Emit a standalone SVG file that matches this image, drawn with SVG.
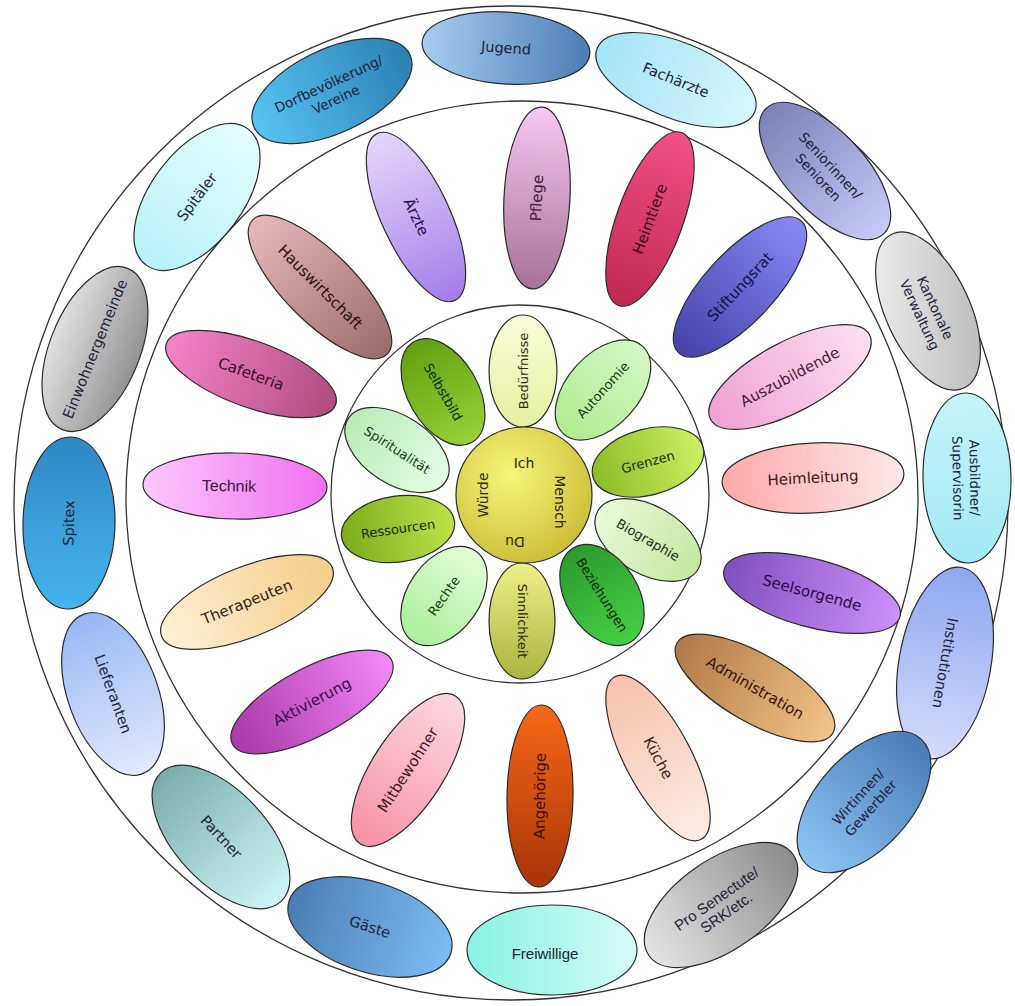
<svg xmlns="http://www.w3.org/2000/svg" width="1015" height="1006" viewBox="0 0 1015 1006">
<style>
.n ellipse{stroke:#2a2a2a;stroke-width:1.2}
text{font-family:"DejaVu Sans","Noto Sans",sans-serif;text-anchor:middle;dominant-baseline:central;fill:#23233a}
.o text{font-size:14.5px}
.o2 text{font-size:13.5px}
.m text{font-size:15px}
.i text{font-size:13px}
.arial text{font-family:"Liberation Sans",Arial,sans-serif}
.ring{fill:none;stroke:#333;stroke-width:1.3}
</style>
<defs>
<linearGradient id="g-jugend"><stop offset="0" stop-color="#a6cdf2"/><stop offset="1" stop-color="#4d7db5"/></linearGradient>
<linearGradient id="g-fach"><stop offset="0" stop-color="#a4e4f6"/><stop offset="1" stop-color="#d6f6fc"/></linearGradient>
<linearGradient id="g-senior"><stop offset="0" stop-color="#7c80b6"/><stop offset="1" stop-color="#c8cafa"/></linearGradient>
<linearGradient id="g-kanton" x1="0" y1="1" x2="1" y2="0"><stop offset="0" stop-color="#f4f4f4"/><stop offset="1" stop-color="#b4b4b4"/></linearGradient>
<linearGradient id="g-ausb"><stop offset="0" stop-color="#c4f4fa"/><stop offset="1" stop-color="#a2e8f2"/></linearGradient>
<linearGradient id="g-inst"><stop offset="0" stop-color="#8ea6f0"/><stop offset="1" stop-color="#d4dcfc"/></linearGradient>
<linearGradient id="g-wirt"><stop offset="0" stop-color="#8cc4f4"/><stop offset="1" stop-color="#4a7cb8"/></linearGradient>
<linearGradient id="g-pro"><stop offset="0" stop-color="#e4e4e4"/><stop offset="1" stop-color="#8c8c8c"/></linearGradient>
<linearGradient id="g-frei"><stop offset="0" stop-color="#88f2e2"/><stop offset="1" stop-color="#d4fcf6"/></linearGradient>
<linearGradient id="g-gaeste"><stop offset="0" stop-color="#4a7eb4"/><stop offset="1" stop-color="#7cbcf2"/></linearGradient>
<linearGradient id="g-partner"><stop offset="0" stop-color="#78acac"/><stop offset="1" stop-color="#cef6f6"/></linearGradient>
<linearGradient id="g-liefer"><stop offset="0" stop-color="#98b6f6"/><stop offset="1" stop-color="#e2eafc"/></linearGradient>
<linearGradient id="g-spitex"><stop offset="0" stop-color="#44b4ec"/><stop offset="1" stop-color="#3088c6"/></linearGradient>
<linearGradient id="g-einw" x1="0" y1="0" x2="0" y2="1"><stop offset="0" stop-color="#e0e0e0"/><stop offset="1" stop-color="#939393"/></linearGradient>
<linearGradient id="g-spitaeler"><stop offset="0" stop-color="#b6f2fa"/><stop offset="1" stop-color="#e4fcfc"/></linearGradient>
<linearGradient id="g-dorf"><stop offset="0" stop-color="#56c4f2"/><stop offset="1" stop-color="#2c80b4"/></linearGradient>
<linearGradient id="g-pflege"><stop offset="0" stop-color="#a87098"/><stop offset="1" stop-color="#f6c8f2"/></linearGradient>
<linearGradient id="g-heimt"><stop offset="0" stop-color="#c02850"/><stop offset="1" stop-color="#f25088"/></linearGradient>
<linearGradient id="g-stift"><stop offset="0" stop-color="#4444a8"/><stop offset="1" stop-color="#8888f4"/></linearGradient>
<linearGradient id="g-azubi"><stop offset="0" stop-color="#f0a0d4"/><stop offset="1" stop-color="#fce0f0"/></linearGradient>
<linearGradient id="g-heiml"><stop offset="0" stop-color="#ffa8a8"/><stop offset="1" stop-color="#fce8e8"/></linearGradient>
<linearGradient id="g-seel"><stop offset="0" stop-color="#8050c0"/><stop offset="1" stop-color="#cc90fa"/></linearGradient>
<linearGradient id="g-admin"><stop offset="0" stop-color="#b07848"/><stop offset="1" stop-color="#f4c488"/></linearGradient>
<linearGradient id="g-kueche"><stop offset="0" stop-color="#f8c0ac"/><stop offset="1" stop-color="#fcece4"/></linearGradient>
<linearGradient id="g-angeh"><stop offset="0" stop-color="#a83408"/><stop offset="1" stop-color="#f86818"/></linearGradient>
<linearGradient id="g-mitbew"><stop offset="0" stop-color="#f890a8"/><stop offset="1" stop-color="#fcd8e0"/></linearGradient>
<linearGradient id="g-aktiv"><stop offset="0" stop-color="#a838a8"/><stop offset="1" stop-color="#f488f8"/></linearGradient>
<linearGradient id="g-thera"><stop offset="0" stop-color="#fdf0d4"/><stop offset="1" stop-color="#f6cc88"/></linearGradient>
<linearGradient id="g-technik"><stop offset="0" stop-color="#fcc8fc"/><stop offset="1" stop-color="#f070f0"/></linearGradient>
<linearGradient id="g-cafe"><stop offset="0" stop-color="#f484c8"/><stop offset="1" stop-color="#b04c80"/></linearGradient>
<linearGradient id="g-haus"><stop offset="0" stop-color="#e8b8b8"/><stop offset="1" stop-color="#9c6c6c"/></linearGradient>
<linearGradient id="g-aerzte"><stop offset="0" stop-color="#e4d8fc"/><stop offset="1" stop-color="#a47ce8"/></linearGradient>
<linearGradient id="g-bed"><stop offset="0" stop-color="#e4f0a0"/><stop offset="1" stop-color="#fafcd8"/></linearGradient>
<linearGradient id="g-auto"><stop offset="0" stop-color="#b0ec90"/><stop offset="1" stop-color="#d4f8c4"/></linearGradient>
<linearGradient id="g-grenz"><stop offset="0" stop-color="#8cbc28"/><stop offset="1" stop-color="#ccf064"/></linearGradient>
<linearGradient id="g-bio"><stop offset="0" stop-color="#e8f8d8"/><stop offset="1" stop-color="#c4e8a0"/></linearGradient>
<linearGradient id="g-bez"><stop offset="0" stop-color="#2c9a2c"/><stop offset="1" stop-color="#44d044"/></linearGradient>
<linearGradient id="g-sinn"><stop offset="0" stop-color="#eef088"/><stop offset="1" stop-color="#a8b440"/></linearGradient>
<linearGradient id="g-rechte"><stop offset="0" stop-color="#a8f098"/><stop offset="1" stop-color="#e4fcd8"/></linearGradient>
<linearGradient id="g-ress"><stop offset="0" stop-color="#7cac1c"/><stop offset="1" stop-color="#bce448"/></linearGradient>
<linearGradient id="g-spirit"><stop offset="0" stop-color="#b8ecb8"/><stop offset="1" stop-color="#e4fce4"/></linearGradient>
<linearGradient id="g-selbst"><stop offset="0" stop-color="#60a010"/><stop offset="1" stop-color="#98d038"/></linearGradient>
<radialGradient id="g-center" cx="0.4" cy="0.35" r="0.7"><stop offset="0" stop-color="#f6f67c"/><stop offset="1" stop-color="#cbbd36"/></radialGradient>
</defs>
<rect width="1015" height="1006" fill="#fff"/>
<g id="connectors">
<circle class="ring" cx="511" cy="503" r="497"/>
<circle class="ring" cx="522" cy="497" r="396"/>
<circle class="ring" cx="520" cy="494" r="189"/>
</g>
<g id="outer" class="o">
<g id="n-jugend" class="n" transform="translate(506,48) rotate(4)"><ellipse rx="84" ry="36" fill="url(#g-jugend)"/><text>Jugend</text></g>
<g id="n-fachaerzte" class="n" transform="translate(676,80) rotate(22)"><ellipse rx="85" ry="38" fill="url(#g-fach)"/><text>Fachärzte</text></g>
<g id="n-senioren" class="n o2" transform="translate(825,171) rotate(47)"><ellipse rx="86" ry="40" fill="url(#g-senior)"/><text y="-8">Seniorinnen/</text><text y="9">Senioren</text></g>
<g id="n-kantonale" class="n o2" transform="translate(928,311) rotate(65)"><ellipse rx="85" ry="42" fill="url(#g-kanton)"/><text y="-8">Kantonale</text><text y="9">Verwaltung</text></g>
<g id="n-ausbildner" class="n o2" transform="translate(967,478) rotate(89)"><ellipse rx="85" ry="44" fill="url(#g-ausb)"/><text y="-8">Ausbildner/</text><text y="9">Supervisorin</text></g>
<g id="n-institutionen" class="n" transform="translate(945,663) rotate(100)"><ellipse rx="97" ry="46" fill="url(#g-inst)"/><text>Institutionen</text></g>
<g id="n-wirtinnen" class="n o2" transform="translate(864,802) rotate(-48)"><ellipse rx="85" ry="47" fill="url(#g-wirt)"/><text y="-8">Wirtinnen/</text><text y="9">Gewerbler</text></g>
<g id="n-prosenectute" class="n o2 arial" transform="translate(721,905) rotate(-35)"><ellipse rx="88" ry="45" fill="url(#g-pro)"/><text y="-8" style="font-size:15px">Pro Senectute/</text><text y="9" style="font-size:15px">SRK/etc.</text></g>
<g id="n-freiwillige" class="n arial" transform="translate(552,950)"><ellipse rx="85" ry="45" fill="url(#g-frei)"/><text x="-7" y="3" style="font-size:15px">Freiwillige</text></g>
<g id="n-gaeste" class="n" transform="translate(370,927) rotate(18)"><ellipse rx="85" ry="45" fill="url(#g-gaeste)"/><text>Gäste</text></g>
<g id="n-partner" class="n" transform="translate(221,837) rotate(47)"><ellipse rx="88" ry="46" fill="url(#g-partner)"/><text>Partner</text></g>
<g id="n-lieferanten" class="n" transform="translate(113,694) rotate(70)"><ellipse rx="85" ry="45" fill="url(#g-liefer)"/><text>Lieferanten</text></g>
<g id="n-spitex" class="n" transform="translate(69,523) rotate(-89)"><ellipse rx="86" ry="46" fill="url(#g-spitex)"/><text>Spitex</text></g>
<g id="n-einwohnergemeinde" class="n" transform="translate(95,349) rotate(-68)"><ellipse rx="87" ry="45" fill="url(#g-einw)"/><text>Einwohnergemeinde</text></g>
<g id="n-spitaeler" class="n" transform="translate(197,197) rotate(-53)"><ellipse rx="85" ry="46" fill="url(#g-spitaeler)"/><text>Spitäler</text></g>
<g id="n-dorf" class="n o2" transform="translate(332,91) rotate(-25)"><ellipse rx="86" ry="42" fill="url(#g-dorf)"/><text y="-8">Dorfbevölkerung/</text><text y="9">Vereine</text></g>
</g>
<g id="middle" class="m">
<g id="n-pflege" class="n" transform="translate(537,198) rotate(-87)"><ellipse rx="91" ry="33" fill="url(#g-pflege)"/><text style="fill:#4a1c44">Pflege</text></g>
<g id="n-heimtiere" class="n" transform="translate(650,219) rotate(-70)"><ellipse rx="92" ry="33" fill="url(#g-heimt)"/><text style="fill:#3c0a18">Heimtiere</text></g>
<g id="n-stiftungsrat" class="n" transform="translate(740,287) rotate(-47)"><ellipse rx="90" ry="35" fill="url(#g-stift)"/><text style="fill:#14144a">Stiftungsrat</text></g>
<g id="n-auszubildende" class="n" transform="translate(790,377) rotate(-28)"><ellipse rx="90" ry="35" fill="url(#g-azubi)"/><text style="fill:#4a1c3c">Auszubildende</text></g>
<g id="n-heimleitung" class="n" transform="translate(813,478) rotate(-3)"><ellipse rx="91" ry="35" fill="url(#g-heiml)"/><text style="fill:#3c1c1c">Heimleitung</text></g>
<g id="n-seelsorgende" class="n" transform="translate(812,593) rotate(15)"><ellipse rx="91" ry="34" fill="url(#g-seel)"/><text style="fill:#2a0c4a">Seelsorgende</text></g>
<g id="n-administration" class="n" transform="translate(755,688) rotate(30)"><ellipse rx="90" ry="34" fill="url(#g-admin)"/><text style="fill:#2a1a0c">Administration</text></g>
<g id="n-kueche" class="n" transform="translate(658,758) rotate(62)"><ellipse rx="92" ry="33" fill="url(#g-kueche)"/><text style="fill:#3a2a22">Küche</text></g>
<g id="n-angehoerige" class="n" transform="translate(540,796) rotate(-89)"><ellipse rx="91" ry="33" fill="url(#g-angeh)"/><text style="fill:#3a1000">Angehörige</text></g>
<g id="n-mitbewohner" class="n" transform="translate(408,770) rotate(-57)"><ellipse rx="88" ry="36" fill="url(#g-mitbew)"/><text style="fill:#3a1a22">Mitbewohner</text></g>
<g id="n-aktivierung" class="n" transform="translate(312,702) rotate(-28)"><ellipse rx="90" ry="34" fill="url(#g-aktiv)"/><text style="fill:#3a0a4a">Aktivierung</text></g>
<g id="n-therapeuten" class="n" transform="translate(247,602) rotate(-22)"><ellipse rx="92" ry="35" fill="url(#g-thera)"/><text style="fill:#2a2418">Therapeuten</text></g>
<g id="n-technik" class="n arial" transform="translate(235,486) rotate(1)"><ellipse rx="92" ry="33" fill="url(#g-technik)"/><text x="-6" style="font-size:16px;fill:#3a1a3a">Technik</text></g>
<g id="n-cafeteria" class="n" transform="translate(251,374) rotate(20)"><ellipse rx="90" ry="33" fill="url(#g-cafe)"/><text style="fill:#3a0c28">Cafeteria</text></g>
<g id="n-hauswirtschaft" class="n" transform="translate(320,287) rotate(45)"><ellipse rx="95" ry="35" fill="url(#g-haus)"/><text style="fill:#2a1010">Hauswirtschaft</text></g>
<g id="n-aerzte" class="n" transform="translate(416,217) rotate(65)"><ellipse rx="92" ry="34" fill="url(#g-aerzte)"/><text style="fill:#24104a">Ärzte</text></g>
</g>
<g id="inner" class="i">
<g id="n-beduerfnisse" class="n" transform="translate(523,371) rotate(-90)"><ellipse rx="56" ry="34" fill="url(#g-bed)"/><text style="fill:#2a2a1a">Bedürfnisse</text></g>
<g id="n-autonomie" class="n" transform="translate(603,390) rotate(-48)"><ellipse rx="59" ry="36" fill="url(#g-auto)"/><text style="fill:#1a3a1a">Autonomie</text></g>
<g id="n-grenzen" class="n" transform="translate(648,462) rotate(-15)"><ellipse rx="57" ry="33" fill="url(#g-grenz)"/><text style="fill:#1a2a0a">Grenzen</text></g>
<g id="n-biographie" class="n" transform="translate(648,540) rotate(30)"><ellipse rx="58" ry="34" fill="url(#g-bio)"/><text style="fill:#2a2a1a">Biographie</text></g>
<g id="n-beziehungen" class="n" transform="translate(602,595) rotate(58)"><ellipse rx="55" ry="36" fill="url(#g-bez)"/><text style="fill:#0a2a0a">Beziehungen</text></g>
<g id="n-sinnlichkeit" class="n" transform="translate(522,621) rotate(90)"><ellipse rx="58" ry="33" fill="url(#g-sinn)"/><text style="fill:#2a2a0a">Sinnlichkeit</text></g>
<g id="n-rechte" class="n" transform="translate(444,596) rotate(-55)"><ellipse rx="55" ry="36" fill="url(#g-rechte)"/><text style="fill:#1a3a1a">Rechte</text></g>
<g id="n-ressourcen" class="n" transform="translate(398,529) rotate(-8)"><ellipse rx="57" ry="33" fill="url(#g-ress)"/><text style="fill:#1a2a0a">Ressourcen</text></g>
<g id="n-spiritualitaet" class="n" transform="translate(397,450) rotate(33)"><ellipse rx="58" ry="34" fill="url(#g-spirit)"/><text style="fill:#1a3a1a">Spiritualität</text></g>
<g id="n-selbstbild" class="n" transform="translate(443,392) rotate(60)"><ellipse rx="58" ry="35" fill="url(#g-selbst)"/><text style="fill:#0a2a0a">Selbstbild</text></g>
</g>
<g id="n-center">
<circle cx="524" cy="495" r="68" fill="url(#g-center)" stroke="#2a2a2a" stroke-width="1.2"/>
<text x="524" y="463" style="font-size:14px;fill:#2a2a0a">Ich</text>
<text transform="translate(483,495) rotate(-90)" style="font-size:14px;fill:#2a2a0a">Würde</text>
<text transform="translate(560,502) rotate(90)" style="font-size:14px;fill:#2a2a0a">Mensch</text>
<text transform="translate(515,542) rotate(180)" style="font-size:14px;fill:#2a2a0a">Du</text>
</g>
</svg>
